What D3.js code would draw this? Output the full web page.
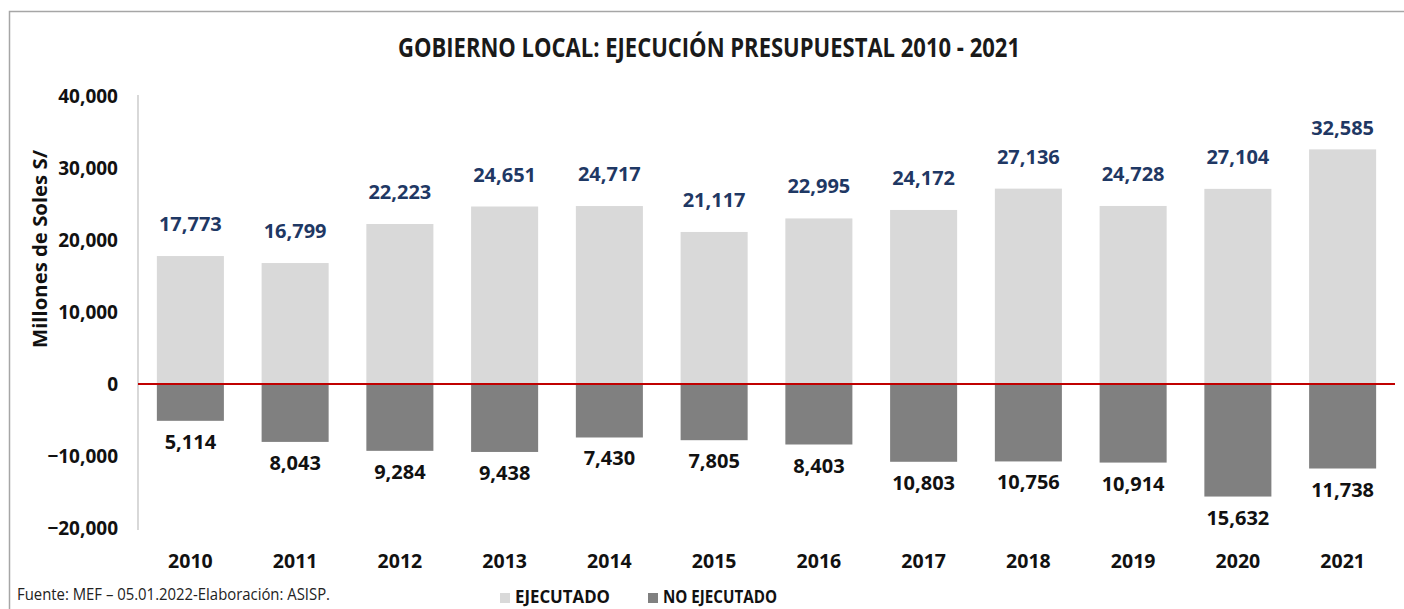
<!DOCTYPE html>
<html>
<head>
<meta charset="utf-8">
<script src="https://cdn.jsdelivr.net/npm/d3@7"></script>
<style>
  body { margin: 0; background: #fff; }
  svg text { font-family: "Open Sans", "Noto Sans", sans-serif; }
</style>
</head>
<body>
<script>
// datos (millones de soles)
var years = ["2010","2011","2012","2013","2014","2015","2016","2017","2018","2019","2020","2021"];
var ejecutado = [17773, 16799, 22223, 24651, 24717, 21117, 22995, 24172, 27136, 24728, 27104, 32585];
var noEjecutado = [5114, 8043, 9284, 9438, 7430, 7805, 8403, 10803, 10756, 10914, 15632, 11738];
var yTicks = [-20000, -10000, 0, 10000, 20000, 30000, 40000];

var width = 1404, height = 609;
var fmt = d3.format(",");

var svg = d3.select("body").append("svg")
  .attr("width", width)
  .attr("height", height);

// marco
svg.append("rect")
  .attr("x", 9.5).attr("y", 11.5)
  .attr("width", width).attr("height", height)
  .attr("fill", "none")
  .attr("stroke", "#a6a6a6")
  .attr("stroke-width", 1.5);

svg.append("text")
  .attr("x", 709).attr("y", 57)
  .attr("text-anchor", "middle")
  .attr("font-size", 27)
  .attr("font-weight", "bold")
  .attr("fill", "#1a1a1a")
  .attr("textLength", 622)
  .attr("lengthAdjust", "spacingAndGlyphs")
  .text("GOBIERNO LOCAL: EJECUCIÓN PRESUPUESTAL 2010 - 2021");

const x = d3.scaleBand()
  .domain(years)
  .range([138, 1395])
  .paddingInner(0.36)
  .paddingOuter(0.18);

const y = d3.scaleLinear()
  .domain([-20000, 40000])
  .range([528, 96]);

// eje y
const yAxisG = svg.append("g")
  .attr("transform", "translate(138,0)")
  .call(d3.axisLeft(y).tickValues(yTicks).tickSize(0).tickPadding(20).tickFormat(fmt));
yAxisG.select(".domain").remove();
yAxisG.selectAll("text")
  .attr("font-size", 19)
  .attr("font-weight", "bold")
  .attr("fill", "#111")
  .style("font-family", "'Open Sans', sans-serif");

svg.append("line")
  .attr("x1", 138).attr("x2", 138)
  .attr("y1", 95).attr("y2", 530)
  .attr("stroke", "#bfbfbf")
  .attr("stroke-width", 1.2);

svg.append("text")
  .attr("transform", "translate(47,249) rotate(-90)")
  .attr("text-anchor", "middle")
  .attr("font-size", 19)
  .attr("font-weight", "bold")
  .attr("fill", "#111")
  .attr("textLength", 198)
  .attr("lengthAdjust", "spacingAndGlyphs")
  .text("Millones de Soles S/");

// barras
svg.selectAll(".ejec").data(ejecutado)
  .enter().append("rect")
    .attr("class", "ejec")
    .attr("x", (d, i) => x(years[i]))
    .attr("width", x.bandwidth())
    .attr("y", d => y(d))
    .attr("height", d => y(0) - y(d))
    .attr("fill", "#d9d9d9");

svg.selectAll(".noejec").data(noEjecutado)
  .enter().append("rect")
    .attr("class", "noejec")
    .attr("x", (d, i) => x(years[i]))
    .attr("width", x.bandwidth())
    .attr("y", y(0))
    .attr("height", d => y(-d) - y(0))
    .attr("fill", "#808080");

svg.append("line")
  .attr("x1", 138).attr("x2", 1395)
  .attr("y1", y(0)).attr("y2", y(0))
  .attr("stroke", "#c00000")
  .attr("stroke-width", 2);

// etiquetas
svg.selectAll(".lblEjec").data(ejecutado)
  .enter().append("text")
    .attr("class", "lblEjec")
    .attr("x", (d, i) => x(years[i]) + x.bandwidth() / 2)
    .attr("y", d => Math.max(y(d) - 25, 135))
    .attr("text-anchor", "middle")
    .attr("font-size", 20)
    .attr("font-weight", "bold")
    .attr("fill", "#1f3864")
    .text(d => fmt(d));

svg.selectAll(".lblNo").data(noEjecutado)
  .enter().append("text")
    .attr("class", "lblNo")
    .attr("x", (d, i) => x(years[i]) + x.bandwidth() / 2)
    .attr("y", d => y(-d) + 28)
    .attr("text-anchor", "middle")
    .attr("font-size", 20)
    .attr("font-weight", "bold")
    .attr("fill", "#111")
    .text(d => fmt(d));

// eje x
const xAxisG = svg.append("g")
  .attr("transform", "translate(0,528)")
  .call(d3.axisBottom(x).tickSize(0).tickPadding(26));
xAxisG.select(".domain").remove();
xAxisG.selectAll("text")
  .attr("font-size", 19.5)
  .attr("font-weight", "bold")
  .attr("fill", "#111")
  .style("font-family", "'Open Sans', sans-serif");

// pie y leyenda
svg.append("text")
  .attr("x", 17).attr("y", 600)
  .attr("font-size", 17)
  .attr("fill", "#222")
  .attr("textLength", 313)
  .attr("lengthAdjust", "spacingAndGlyphs")
  .text("Fuente: MEF – 05.01.2022-Elaboración: ASISP.");

var legend = [
  {name: "EJECUTADO", color: "#d9d9d9", x: 500, w: 95},
  {name: "NO EJECUTADO", color: "#808080", x: 648, w: 114}
];
var lg = svg.selectAll(".legend").data(legend)
  .enter().append("g")
    .attr("class", "legend")
    .attr("transform", d => `translate(${d.x},593)`);
lg.append("rect")
  .attr("width", 10).attr("height", 10)
  .attr("fill", d => d.color);
lg.append("text")
  .attr("x", 15).attr("y", 10)
  .attr("font-size", 17)
  .attr("font-weight", "bold")
  .attr("fill", "#111")
  .attr("textLength", d => d.w)
  .attr("lengthAdjust", "spacingAndGlyphs")
  .text(d => d.name);
</script>
</body>
</html>
